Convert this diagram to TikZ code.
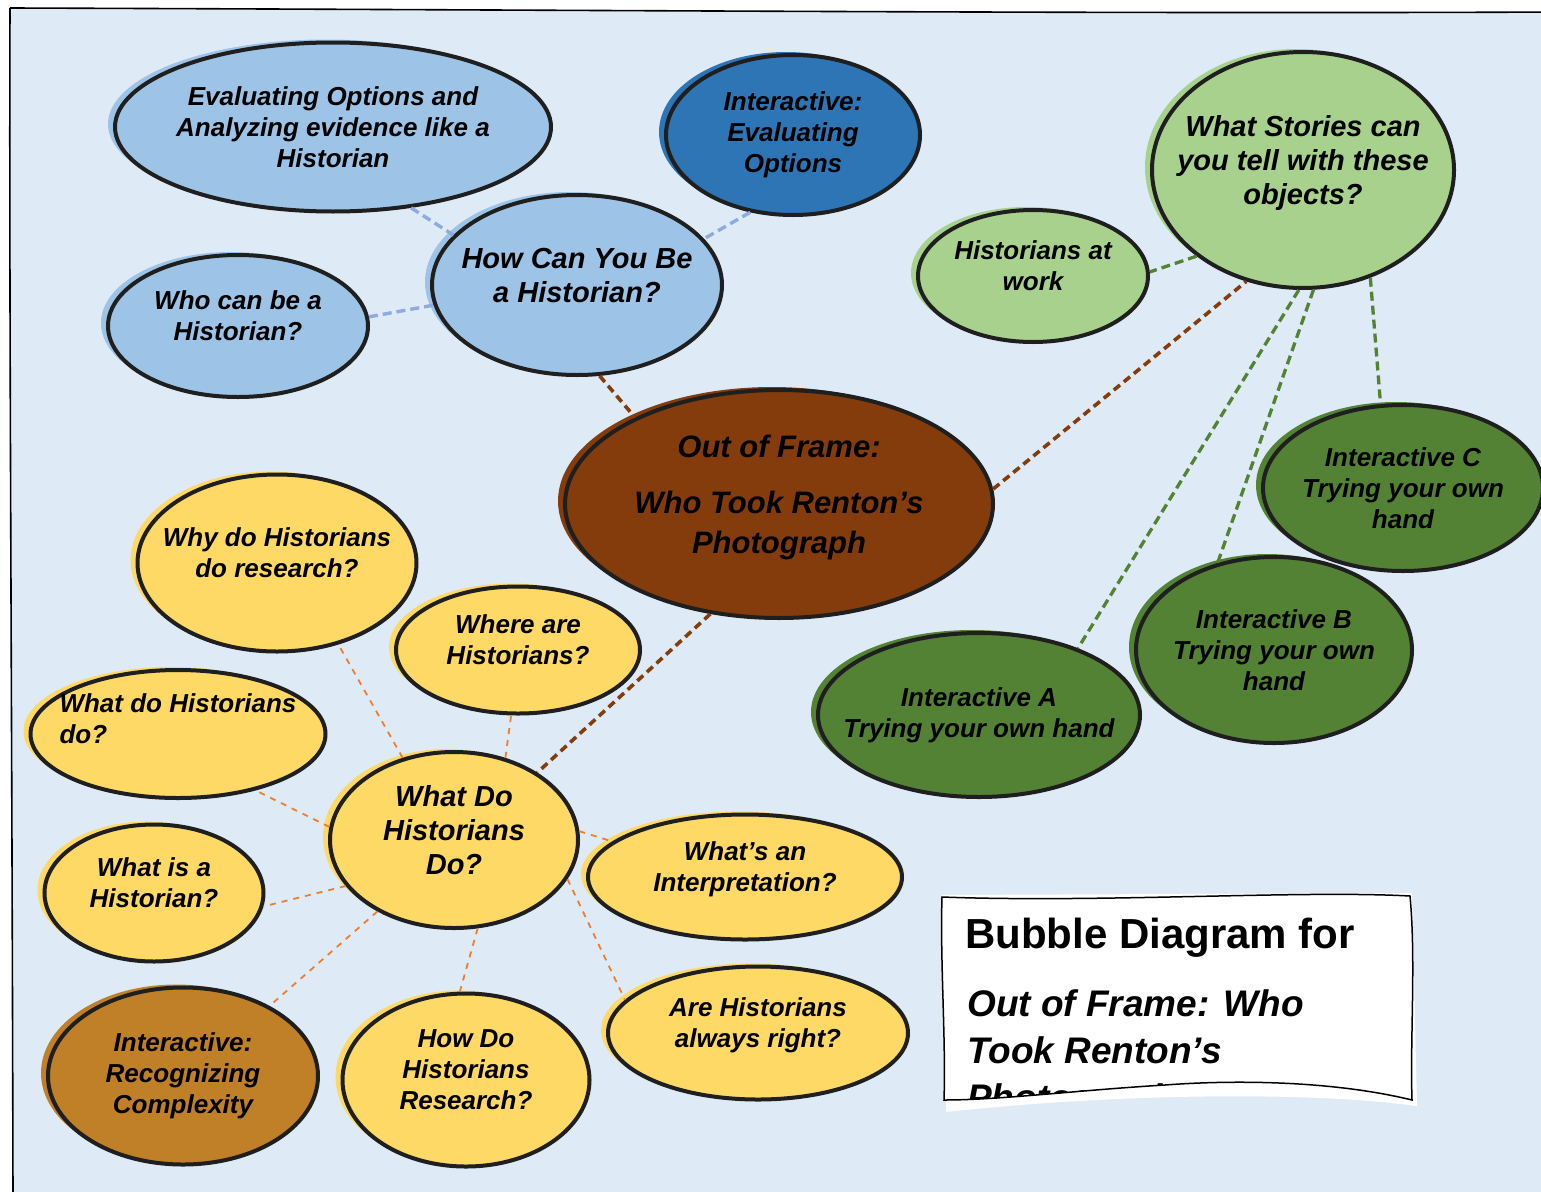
\documentclass[tikz,border=0pt]{standalone}
\usepackage{fontspec}
\setmainfont{Liberation Sans}
\usetikzlibrary{shapes.geometric,shadows}
\definecolor{canvas}{HTML}{DEEBF7}
\definecolor{lightblue}{HTML}{9DC3E6}
\definecolor{darkblue}{HTML}{2E75B6}
\definecolor{lightgreen}{HTML}{A9D18E}
\definecolor{darkgreen}{HTML}{548235}
\definecolor{oofbrown}{HTML}{843C0C}
\definecolor{paleyellow}{HTML}{FFD966}
\definecolor{darkgold}{HTML}{BF8028}
\definecolor{linkblue}{HTML}{8FAADC}
\definecolor{linkorange}{HTML}{ED7D31}
\newcommand\bubtext{\fontsize{26}{31}\selectfont\bfseries\itshape}
\newcommand\bubbig{\fontsize{29}{34}\selectfont\bfseries\itshape}
\begin{document}
\begin{tikzpicture}[x=1pt, y=-1pt,
        bubble/.style={ellipse, draw=black!88, line width=4pt, fill=#1, text=black,
            inner sep=-60pt, align=center, font=\bubtext,
            drop shadow={fill=#1, opacity=1, shadow xshift=-7pt, shadow yshift=3pt}},
        lift/.style={execute at end node={\rule[-#1]{0pt}{0pt}}},
        lift/.default=20pt,
        bluelink/.style={draw=linkblue, line width=3.4pt, dash pattern=on 9pt off 5pt},
        brownlink/.style={draw=oofbrown, line width=3.6pt, dash pattern=on 8pt off 5pt},
        greenlink/.style={draw=darkgreen, line width=3.3pt, dash pattern=on 9pt off 5pt},
        orangelink/.style={draw=linkorange, line width=1.8pt, dash pattern=on 6pt off 6pt}]
    \useasboundingbox (0,0) rectangle (1541,1191);
    \fill[white] (0,0) rectangle (1541,1191);
    \draw[fill=canvas, line width=1.6pt]
    (10,8) .. controls (600,10) and (1100,14) .. (1560,12) -- (1560,1200) -- (13,1200)
    .. controls (12,700) and (9,300) .. (10,8);

    \node[bubble=lightblue, minimum width=436pt, minimum height=169pt] (eval) at (333,127)
        {Evaluating Options and\\Analyzing evidence like a\\Historian};
    \node[bubble=darkblue, minimum width=254pt, minimum height=160pt] (intEval) at (793,135)
        {Interactive:\\Evaluating\\Options};
    \node[bubble=lightblue, lift, minimum width=290pt, minimum height=180pt, font=\bubbig] (howCan) at (577,285)
        {How Can You Be\\a Historian?};
    \node[bubble=lightblue, lift, minimum width=260pt, minimum height=142pt] (whoCan) at (238,326)
        {Who can be a\\Historian?};
    \node[bubble=lightgreen, lift, minimum width=302pt, minimum height=236pt, font=\bubbig] (stories) at (1303,170)
        {What Stories can\\you tell with these\\objects?};
    \node[bubble=lightgreen, lift, minimum width=230pt, minimum height=132pt] (atWork) at (1033,276)
        {Historians at\\work};
    \node[bubble=oofbrown, lift, minimum width=428pt, minimum height=228pt,
        font=\fontsize{31}{40}\selectfont\bfseries\itshape] (outFrame) at (779,504)
        {Out of Frame:\\[16pt]Who Took Renton’s\\Photograph};
    \node[bubble=darkgreen, minimum width=280pt, minimum height=166pt] (intC) at (1403,488)
        {Interactive C\\Trying your own\\hand};
    \node[bubble=darkgreen, minimum width=276pt, minimum height=186pt] (intB) at (1274,650)
        {Interactive B\\Trying your own\\hand};
    \node[bubble=darkgreen, minimum width=322pt, minimum height=164pt] (intA) at (979,715)
        {Interactive A\\Trying your own hand};

    \node[bubble=paleyellow, lift, minimum width=279pt, minimum height=177pt] (whyDo) at (277,563)
        {Why do Historians\\do research?};
    \node[bubble=paleyellow, lift, minimum width=244pt, minimum height=127pt] (whereAre) at (518,650)
        {Where are\\Historians?};
    \node[bubble=paleyellow, lift=30pt, minimum width=295pt, minimum height=128pt, align=left] (whatDoLow) at (178,734)
        {What do Historians\\do?};
    \node[bubble=paleyellow, lift, minimum width=248pt, minimum height=176pt, font=\bubbig] (whatDo) at (454,840)
        {What Do\\Historians\\Do?};
    \node[bubble=paleyellow, lift, minimum width=219pt, minimum height=137pt] (whatIs) at (154,893)
        {What is a\\Historian?};
    \node[bubble=paleyellow, lift, minimum width=314pt, minimum height=125pt] (interp) at (745,877)
        {What’s an\\Interpretation?};
    \node[bubble=darkgold, minimum width=270pt, minimum height=177pt] (intComplex) at (183,1076)
        {Interactive:\\Recognizing\\Complexity};
    \node[bubble=paleyellow, lift, minimum width=247pt, minimum height=173pt] (howResearch) at (466,1080)
        {How Do\\Historians\\Research?};
    \node[bubble=paleyellow, lift, minimum width=300pt, minimum height=133pt] (alwaysRight) at (758,1033)
        {Are Historians\\always right?};

    \draw[bluelink] (eval.314) -- (howCan.158);
    \draw[bluelink] (intEval.241) -- (howCan.20);
    \draw[bluelink] (whoCan.4) -- (howCan.188);
    \draw[brownlink] (howCan.284) -- (outFrame.149);
    \draw[brownlink] (outFrame.4) -- (stories.243);
    \draw[brownlink] (outFrame.238) -- (whatDo.39);
    \draw[greenlink] (stories.219) -- (atWork.2);
    \draw[greenlink] (stories.302) -- (intC.105);
    \draw[greenlink] (stories.275) -- (intB.123);
    \draw[greenlink] (stories.268) -- (intA.34);
    \draw[orangelink] (whatDo.122) -- (whyDo.307);
    \draw[orangelink] (whatDo.58) -- (whereAre.264);
    \draw[orangelink] (whatDo.174) -- (whatDoLow.324);
    \draw[orangelink] (whatDo.203) -- (whatIs.353);
    \draw[orangelink] (whatDo.223) -- (intComplex.39);
    \draw[orangelink] (whatDo.285) -- (howResearch.94);
    \draw[orangelink] (whatDo.341) -- (alwaysRight.166);
    \draw[orangelink] (whatDo.4) -- (interp.165);

    \fill[white] (942,895) -- (1412,893) -- (1417,1106)
    .. controls (1300,1090) and (1100,1095) .. (946,1112) -- cycle;
    \draw[fill=white, line width=1.5pt]
    (942,897) .. controls (1100,903) and (1300,890) .. (1410,896)
    .. controls (1416,960) and (1410,1040) .. (1412,1100)
    .. controls (1330,1080) and (1230,1080) .. (1165,1085)
    .. controls (1080,1090) and (1000,1100) .. (944,1100)
    .. controls (946,1040) and (940,960) .. (942,897) -- cycle;
    \begin{scope}
        \clip (942,897) -- (1410,896) -- (1412,1100)
        .. controls (1330,1080) and (1230,1080) .. (1165,1085)
        .. controls (1080,1090) and (1000,1100) .. (944,1100) -- cycle;
        \node[anchor=base west, inner sep=0pt, font=\fontsize{42}{50}\selectfont\bfseries] (legTitle) at (965,948)
            {Bubble Diagram for};
        \node[anchor=north west, inner sep=0pt, align=left, font=\fontsize{37}{47}\selectfont\bfseries\itshape] (legName) at (967,989)
            {Out of Frame: Who\\Took Renton’s\\Photograph};
    \end{scope}
\end{tikzpicture}
\end{document}
